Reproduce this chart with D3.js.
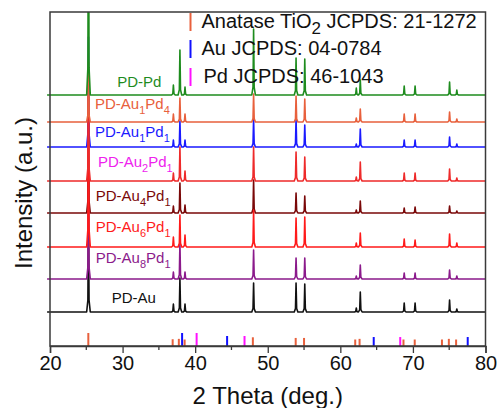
<!DOCTYPE html>
<html>
<head>
<meta charset="utf-8">
<script src="https://cdn.jsdelivr.net/npm/d3@7"></script>
<style>
  html, body { margin: 0; padding: 0; background: #fff; }
  svg { display: block; font-family: "Liberation Sans", Arial, sans-serif; }
</style>
</head>
<body>
<svg id="chart" width="499" height="408"></svg>
<script>
// ---- data ----
// 2θ positions of the diffraction peaks traced in every pattern
const peakPositions = [25.3, 37.0, 37.9, 38.6, 48.05, 53.9, 55.1, 62.2, 62.75, 68.8, 70.3, 75.05, 76.05];

// sample names, bottom to top ("_n" marks a subscript)
const sampleNames = ["PD-Au", "PD-Au_8Pd_1", "PD-Au_6Pd_1", "PD-Au_4Pd_1", "PD-Au_2Pd_1", "PD-Au_1Pd_1", "PD-Au_1Pd_4", "PD-Pd"];

// vertical offset of each pattern (a.u.)
const sampleOffsets = [34, 67, 99, 133, 165, 199, 224, 251];

// peak intensities (a.u.) at peakPositions, one row per sample
const intensityPDAu     = [100, 8, 34, 8, 29, 29, 28, 4, 20, 9, 9, 12, 3];
const intensityAu8Pd1   = [100, 7, 36, 7, 29, 21, 21, 3, 14, 6, 6, 9, 3];
const intensityAu6Pd1   = [150, 10, 32, 12, 37, 29, 30, 4, 14, 8, 7, 13, 4];
const intensityAu4Pd1   = [100, 7, 30, 8, 33, 20, 17, 3, 12, 5, 6, 7, 2];
const intensityAu2Pd1   = [110, 8, 34, 10, 34, 29, 24, 4, 19, 8, 8, 12, 3];
const intensityAu1Pd1   = [110, 7, 26, 7, 28, 28, 22, 3, 18, 7, 7, 10, 3];
const intensityAu1Pd4   = [60, 8, 24, 8, 28, 26, 23, 4, 13, 8, 8, 10, 3];
const intensityPDPd     = [230, 10, 45, 8, 66, 37, 36, 7, 15, 9, 9, 13, 5];

// standard reference lines: [2θ, relative intensity]
const anataseRef = [[25.28, 100], [36.9, 52], [37.75, 55], [38.55, 50], [47.95, 67], [53.85, 62], [55.0, 62],
                    [62.05, 50], [62.65, 55], [68.7, 50], [70.25, 50], [74.0, 50], [74.95, 55], [75.95, 50]];
const auRef = [[38.2, 100], [44.4, 77], [64.6, 69], [77.55, 69]];
const pdRef = [[40.2, 100], [46.8, 77], [68.25, 69]];

const refNames = ["Anatase TiO_2 JCPDS: 21-1272", "Au JCPDS: 04-0784", "Pd JCPDS: 46-1043"];

const xTicks = [20, 30, 40, 50, 60, 70, 80];
const xMinorTicks = [25, 35, 45, 55, 65, 75];

// ---- styling / layout ----
const traceColors = ["#111111", "#8b1a8b", "#ff1a1a", "#7a0808", "#ee2a2a", "#1a1aff", "#e8603c", "#1e8c1e"];
const labelColors = ["#111111", "#8b1a8b", "#ff1a1a", "#7a0808", "#ee22ee", "#1a1aff", "#e8603c", "#1e8c1e"];
const labelLayout = [
  { x: 28.5, rise: 9 }, { x: 26.3, rise: 16 }, { x: 26.3, rise: 15 }, { x: 26.3, rise: 12 },
  { x: 26.6, rise: 14 }, { x: 26.2, rise: 10 }, { x: 26.2, rise: 13 }, { x: 29.25, rise: 8 }
];
// drawing order (later ones sit on top where peaks overlap)
const drawOrder = [0, 1, 3, 5, 2, 4, 6, 7];
const refColors = ["#e8603c", "#1010ff", "#ff10ff"];

const intensities = [intensityPDAu, intensityAu8Pd1, intensityAu6Pd1, intensityAu4Pd1,
                     intensityAu2Pd1, intensityAu1Pd1, intensityAu1Pd4, intensityPDPd];

const W = 499, H = 408;
const margin = { left: 50, right: 13.5, top: 12, bottom: 62 };
const plotW = W - margin.left - margin.right;
const plotH = H - margin.top - margin.bottom;

const svg = d3.select("#chart");

const x = d3.scaleLinear().domain([20, 80]).range([margin.left, margin.left + plotW]);
const y = d3.scaleLinear().domain([0, 334]).range([margin.top + plotH, margin.top]);
const stickY = d3.scaleLinear().domain([0, 100]).range([margin.top + plotH, margin.top + plotH - 13]);

svg.append("defs").append("clipPath").attr("id", "plotClip")
  .append("rect")
  .attr("x", margin.left - 4).attr("y", margin.top)
  .attr("width", plotW + 4).attr("height", plotH);

// peak profile: narrow spike with a small foot
const footHalf = 0.25, shoulderHalf = 0.08, shoulderFrac = 0.12;
function patternPoints(heights, offset) {
  const pts = [[19.6, offset]];
  peakPositions.forEach((p, i) => {
    const h = heights[i];
    pts.push([p - footHalf, offset], [p - shoulderHalf, offset + h * shoulderFrac], [p, offset + h],
             [p + shoulderHalf, offset + h * shoulderFrac], [p + footHalf, offset]);
  });
  pts.push([80, offset]);
  return pts;
}

const line = d3.line().x(d => x(d[0])).y(d => y(d[1]));

const traces = svg.append("g").attr("clip-path", "url(#plotClip)");
drawOrder.forEach(i => {
  traces.append("path")
    .attr("d", line(patternPoints(intensities[i], sampleOffsets[i])))
    .attr("fill", "none")
    .attr("stroke", traceColors[i])
    .attr("stroke-width", 1.6)
    .attr("stroke-linejoin", "round");
});

// reference stick pattern along the bottom
[anataseRef, auRef, pdRef].forEach((ref, k) => {
  svg.append("g").selectAll("line").data(ref).join("line")
    .attr("x1", d => x(d[0])).attr("x2", d => x(d[0]))
    .attr("y1", stickY(0)).attr("y2", d => stickY(d[1]))
    .attr("stroke", refColors[k]).attr("stroke-width", 2);
});

// text with "_n" subscripts
function richText(sel, str, size, subSize, subShift) {
  const parts = str.split(/_(\d)/);
  parts.forEach((p, j) => {
    if (!p) return;
    const sub = j % 2 === 1;
    const t = sel.append("tspan").text(p).attr("font-size", sub ? subSize : size);
    if (sub) t.attr("dy", subShift);
    else if (j > 1) t.attr("dy", -subShift);
  });
}

// sample labels
sampleNames.forEach((name, i) => {
  const t = svg.append("text")
    .attr("x", x(labelLayout[i].x))
    .attr("y", y(sampleOffsets[i]) - labelLayout[i].rise)
    .attr("fill", labelColors[i]);
  richText(t, name, 15, 11, 5);
});

// legend for reference patterns
const legendX = 190.5;
const legendBaselines = [28, 55, 83];
refNames.forEach((name, k) => {
  svg.append("line")
    .attr("x1", legendX).attr("x2", legendX)
    .attr("y1", legendBaselines[k] - 15).attr("y2", legendBaselines[k] + 3)
    .attr("stroke", refColors[k]).attr("stroke-width", 2);
  const t = svg.append("text")
    .attr("x", legendX + 11 + (k === 2 ? 2 : 0))
    .attr("y", legendBaselines[k])
    .attr("fill", "#111");
  richText(t, name, 20, 17, 6);
});

// frame
svg.append("rect")
  .attr("x", margin.left).attr("y", margin.top)
  .attr("width", plotW).attr("height", plotH)
  .attr("fill", "none").attr("stroke", "#3a3a3a").attr("stroke-width", 1.5);

// x axis
const xAxis = svg.append("g")
  .attr("transform", `translate(0,${margin.top + plotH})`)
  .call(d3.axisBottom(x).tickValues(xTicks).tickSize(7).tickPadding(3).tickFormat(d3.format("d")));
xAxis.select(".domain").attr("stroke", "#3a3a3a").attr("stroke-width", 1.5);
xAxis.selectAll(".tick line").attr("stroke", "#3a3a3a").attr("stroke-width", 1.3);
xAxis.selectAll(".tick text").attr("font-size", 20).attr("fill", "#111")
  .attr("font-family", "Liberation Sans, Arial, sans-serif");

svg.append("g").selectAll("line").data(xMinorTicks).join("line")
  .attr("x1", d => x(d)).attr("x2", d => x(d))
  .attr("y1", margin.top + plotH).attr("y2", margin.top + plotH + 4)
  .attr("stroke", "#3a3a3a").attr("stroke-width", 1.3);

// axis titles
svg.append("text")
  .attr("x", margin.left + plotW / 2).attr("y", 404)
  .attr("text-anchor", "middle").attr("font-size", 24).attr("fill", "#111")
  .text("2 Theta (deg.)");

svg.append("text")
  .attr("transform", `translate(32,193) rotate(-90)`)
  .attr("text-anchor", "middle").attr("font-size", 24).attr("fill", "#111")
  .text("Intensity (a.u.)");
</script>
</body>
</html>
